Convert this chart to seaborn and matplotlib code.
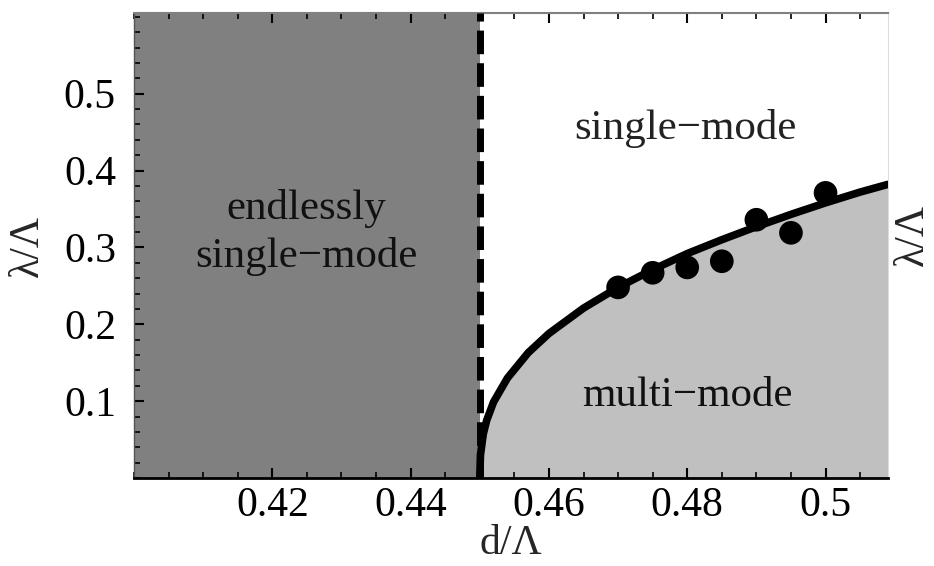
import numpy as np
import seaborn as sns
import matplotlib.pyplot as plt
from matplotlib.ticker import MultipleLocator

# single-mode / multi-mode boundary
curve_d = [0.450, 0.4501, 0.4505, 0.451, 0.452, 0.454, 0.457, 0.460, 0.465,
           0.470, 0.475, 0.480, 0.485, 0.490, 0.495, 0.500, 0.505, 0.509]
curve_lam = [0.000, 0.030, 0.057, 0.075, 0.099, 0.130, 0.163, 0.188, 0.221,
             0.248, 0.271, 0.292, 0.310, 0.327, 0.343, 0.358, 0.372, 0.382]

# measured points
meas_d = [0.470, 0.475, 0.480, 0.485, 0.490, 0.495, 0.500]
meas_lam = [0.248, 0.267, 0.274, 0.282, 0.336, 0.319, 0.371]

esm_limit = 0.45  # endlessly single-mode edge

x_ticks = [0.42, 0.44, 0.46, 0.48, 0.5]
x_labels = ["0.42", "0.44", "0.46", "0.48", "0.5"]
y_ticks = [0.1, 0.2, 0.3, 0.4, 0.5]
y_labels = ["0.1", "0.2", "0.3", "0.4", "0.5"]

sns.set_theme(style="ticks")
plt.rcParams["font.family"] = ["Liberation Serif", "DejaVu Serif"]

fig = plt.figure(figsize=(9.34, 5.66), dpi=100)
ax = fig.add_axes([0.1435, 0.1555, 0.807, 0.8215])

ax.set_xlim(0.40, 0.509)
ax.set_ylim(0, 0.605)

# regions
ax.axvspan(0.40, esm_limit, color="#808080", lw=0, zorder=0)
ax.fill_between(curve_d, 0, curve_lam, color="#c0c0c0", lw=0, zorder=0)

ax.axvline(esm_limit, color="black", lw=5, dashes=(3.4, 1.3), zorder=3)
sns.lineplot(x=curve_d, y=curve_lam, color="black", lw=5.5, ax=ax, zorder=4)
sns.scatterplot(x=meas_d, y=meas_lam, s=290, color="black", edgecolor="none",
                ax=ax, zorder=5)

# labels inside
ax.text(0.4249, 0.32, "endlessly\nsingle\u2212mode", ha="center", va="center",
        fontsize=31, linespacing=1.3, color="#111111")
ax.text(0.4797, 0.455, "single\u2212mode", ha="center", va="center",
        fontsize=31, color="#222222")
ax.text(0.4800, 0.107, "multi\u2212mode", ha="center", va="center",
        fontsize=31, color="#111111")

ax.set_xticks(x_ticks, x_labels)
ax.set_yticks(y_ticks, y_labels)
ax.xaxis.set_minor_locator(MultipleLocator(0.005))
ax.yaxis.set_minor_locator(MultipleLocator(0.02))
ax.tick_params(axis="both", which="both", direction="in", top=True, right=False,
               labelsize=30, colors="black")
ax.tick_params(axis="both", which="major", length=7, width=1.5)
ax.tick_params(axis="both", which="minor", length=4, width=1.2)
ax.tick_params(axis="x", which="major", pad=6)
ax.tick_params(axis="y", which="major", pad=13)

ax.set_xlabel("d/\u039b", fontsize=30, labelpad=0)
ax.set_ylabel("\u03bb/\u039b", fontsize=30, labelpad=12)

ax.spines["bottom"].set_linewidth(2)
ax.spines["bottom"].set_color("black")
ax.spines["top"].set_linewidth(1.5)
ax.spines["top"].set_color("#808080")
ax.spines["left"].set_linewidth(1)
ax.spines["left"].set_color("#555555")
ax.spines["right"].set_linewidth(0.8)
ax.spines["right"].set_color("#dddddd")

# edge of the neighbouring panel's axis label
fig.text(0.957, 0.585, "\u03bb/\u039b", rotation=90, fontsize=30,
         ha="left", va="center")

fig.savefig("out.png", dpi=100)
